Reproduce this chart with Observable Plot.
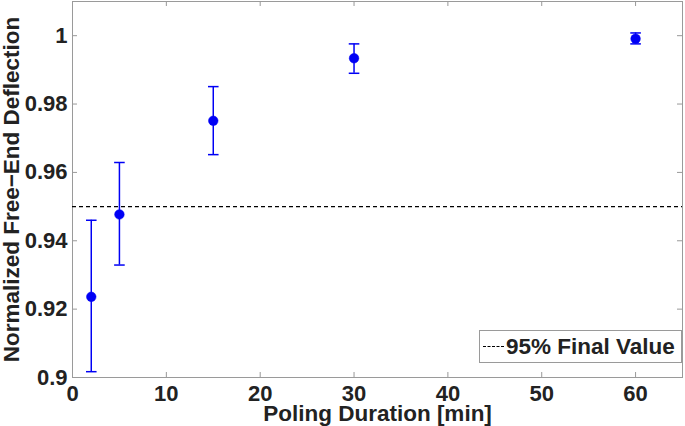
<!DOCTYPE html>
<html>
<head>
<meta charset="utf-8">
<script src="https://cdn.jsdelivr.net/npm/d3@7"></script>
<script src="https://cdn.jsdelivr.net/npm/@observablehq/plot@0.6"></script>
<style>
  html, body { margin: 0; padding: 0; background: #fff; }
  #wrap { position: relative; width: 685px; height: 426px; font-family: "Liberation Sans", Arial, sans-serif; }
  #legend { position: absolute; left: 479px; top: 330px; width: 201px; height: 31px; border: 1px solid #9a9a9a; background: #fff; box-sizing: content-box; }
  #legend .sample { position: absolute; left: 3px; top: 15px; width: 21px; border-top: 1.3px dashed #000; }
  #legend .txt { position: absolute; left: 26px; top: 2px; font-size: 22.5px; font-weight: bold; color: #222; line-height: 27px; white-space: nowrap; }
</style>
</head>
<body>
<div id="wrap"></div>
<script>
// Data
const durations = [2, 5, 15, 30, 60];
const means     = [0.9236, 0.9477, 0.9751, 0.9934, 0.9991];
const lowers    = [0.9017, 0.9329, 0.9652, 0.9890, 0.9976];
const uppers    = [0.9460, 0.9629, 0.9851, 0.9976, 1.0008];
const threshold = [0.95];
const xTicks = [0, 10, 20, 30, 40, 50, 60];
const xTickLabels = ["0", "10", "20", "30", "40", "50", "60"];
const yTicks = [0.9, 0.92, 0.94, 0.96, 0.98, 1];
const yTickLabels = ["0.9", "0.92", "0.94", "0.96", "0.98", "1"];
const xLabel = "Poling Duration [min]";
const yLabel = "Normalized Free\u2212End Deflection";
const legendLabel = "95% Final Value";

const data = durations.map((d, i) => ({x: d, y: means[i], lo: lowers[i], hi: uppers[i]}));

const W = 685, H = 426, ML = 72, MR = 3, MT = 1, MB = 49;
const innerW = W - ML - MR, innerH = H - MT - MB;
const TL = 5; // tick length
const blue = "#0000f5";
const textColor = "#222";

const capSymbol = {
  draw(context, size) {
    const r = Math.sqrt(size / Math.PI);
    context.moveTo(-r, 0);
    context.lineTo(r, 0);
  }
};

const chart = Plot.plot({
  width: W, height: H,
  marginLeft: ML, marginRight: MR, marginTop: MT, marginBottom: MB,
  style: {fontFamily: "Liberation Sans, Arial, sans-serif", fontSize: "22px", fontWeight: "bold", color: textColor, background: "#fff"},
  x: {domain: [0, 65]},
  y: {domain: [0.9, 1.01]},
  marks: [
    // inward tick marks (bottom/top/left/right)
    Plot.ruleX(xTicks, {x: d => d, stroke: "#999", strokeWidth: 1, insetTop: innerH - TL}),
    Plot.ruleX(xTicks, {x: d => d, stroke: "#999", strokeWidth: 1, insetBottom: innerH - TL}),
    Plot.ruleY(yTicks, {y: d => d, stroke: "#999", strokeWidth: 1, insetRight: innerW - TL}),
    Plot.ruleY(yTicks, {y: d => d, stroke: "#999", strokeWidth: 1, insetLeft: innerW - TL}),
    Plot.frame({stroke: "#9a9a9a", strokeWidth: 1}),
    Plot.axisX({ticks: xTicks, tickSize: 0, tickPadding: 8, tickFormat: d => xTickLabels[xTicks.indexOf(d)], label: null, fill: textColor, fontSize: 22, fontWeight: "bold"}),
    Plot.axisY({ticks: yTicks, tickSize: 0, tickPadding: 5, tickFormat: d => yTickLabels[yTicks.findIndex(t => Math.abs(t - d) < 1e-9)], label: null, fill: textColor, fontSize: 22, fontWeight: "bold"}),
    // 95% line
    Plot.ruleY(threshold, {y: d => d, stroke: "#000", strokeWidth: 1.2, strokeDasharray: "4,3"}),
    // error bars
    Plot.ruleX(data, {x: "x", y1: "lo", y2: "hi", stroke: blue, strokeWidth: 1.5}),
    Plot.dot(data, {x: "x", y: "lo", symbol: capSymbol, r: 5.3, stroke: blue, strokeWidth: 1.5}),
    Plot.dot(data, {x: "x", y: "hi", symbol: capSymbol, r: 5.3, stroke: blue, strokeWidth: 1.5}),
    Plot.dot(data, {x: "x", y: "y", r: 4.8, fill: blue, stroke: blue, strokeWidth: 0.5}),
    // axis titles
    Plot.text([yLabel], {frameAnchor: "left", text: d => d, rotate: -90, dx: -54, lineAnchor: "bottom", textAnchor: "middle", fontSize: 22.5, fontWeight: "bold", fill: textColor}),
    Plot.text([xLabel], {frameAnchor: "bottom", text: d => d, dy: 43, lineAnchor: "bottom", textAnchor: "middle", fontSize: 22.5, fontWeight: "bold", fill: textColor})
  ]
});

const wrap = document.getElementById("wrap");
wrap.appendChild(chart);
const legend = document.createElement("div");
legend.id = "legend";
legend.innerHTML = `<div class="sample"></div><div class="txt"></div>`;
legend.querySelector(".txt").textContent = legendLabel;
wrap.appendChild(legend);
</script>
</body>
</html>
